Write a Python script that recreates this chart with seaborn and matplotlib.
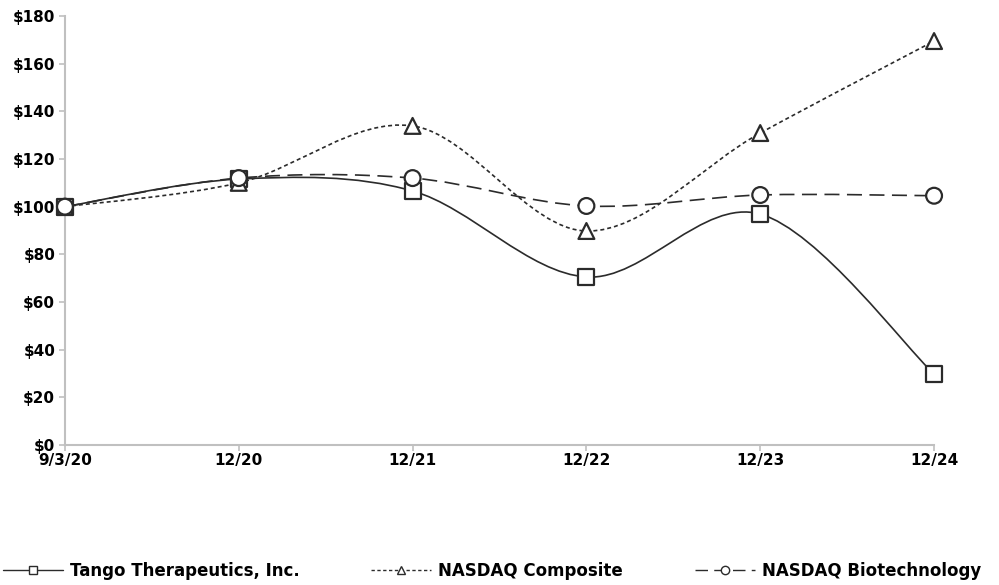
import numpy as np
import pandas as pd
import matplotlib
matplotlib.use("Agg")
import matplotlib.pyplot as plt
from matplotlib.path import Path
from matplotlib.patches import PathPatch
from matplotlib.lines import Line2D
import seaborn as sns

# data
dates = ["9/3/20", "12/20", "12/21", "12/22", "12/23", "12/24"]
tango = [100, 111.6, 106.6, 70.5, 96.9, 29.8]
composite = [100, 110.0, 133.9, 89.8, 130.9, 169.5]
biotech = [100, 112.0, 112.0, 100.3, 104.9, 104.6]
names = ["Tango Therapeutics, Inc.", "NASDAQ Composite", "NASDAQ Biotechnology"]

sns.set_style("white")
plt.rcParams["font.family"] = ["DejaVu Sans"]
plt.rcParams["font.weight"] = "bold"

pos = list(range(len(dates)))
df = pd.DataFrame({
    "pos": pos * 3,
    "value": tango + composite + biotech,
    "series": [names[0]] * 6 + [names[1]] * 6 + [names[2]] * 6,
})

fig = plt.figure(figsize=(9.99, 5.85), dpi=100)
ax = fig.add_axes([0.065, 0.2393, 0.87, 0.7333])

line_col = "#2b2b2b"
styles = {
    names[0]: dict(ls="-", lw=1.2, marker="s"),
    names[1]: dict(ls=(0, (2.4, 1.8)), lw=1.2, marker="^"),
    names[2]: dict(ls=(0, (9, 4.5)), lw=1.2, marker="o"),
}


def smooth_path(xs, ys):
    # Excel-like smoothed line: Catmull-Rom segments as cubic Bezier curves
    p = np.column_stack([xs, ys]).astype(float)
    verts = [p[0]]
    codes = [Path.MOVETO]
    n = len(p)
    for i in range(n - 1):
        p0 = p[i - 1] if i > 0 else p[i]
        p3 = p[i + 2] if i + 2 < n else p[i + 1]
        c1 = p[i] + (p[i + 1] - p0) / 6
        c2 = p[i + 1] - (p3 - p[i]) / 6
        verts += [c1, c2, p[i + 1]]
        codes += [Path.CURVE4] * 3
    return Path(verts, codes)


for name, vals in zip(names, [tango, composite, biotech]):
    st = styles[name]
    ax.add_patch(PathPatch(smooth_path(pos, vals), fill=False, edgecolor=line_col,
                           linestyle=st["ls"], linewidth=st["lw"], zorder=2))

sns.scatterplot(data=df, x="pos", y="value", style="series",
                markers={n: styles[n]["marker"] for n in names},
                s=130, color="white", edgecolor=line_col, linewidth=1.6,
                legend=False, zorder=3, clip_on=False, ax=ax)

ax.set_xlim(0, 5)
ax.set_ylim(0, 180)
ax.set_yticks(range(0, 181, 20))
ax.set_yticklabels([f"${v}" for v in range(0, 181, 20)])
ax.set_xticks(pos)
ax.set_xticklabels(dates)
ax.set_xlabel("")
ax.set_ylabel("")
for s in ["top", "right"]:
    ax.spines[s].set_visible(False)
for s in ["left", "bottom"]:
    ax.spines[s].set_color("#c0c0c0")
    ax.spines[s].set_linewidth(1.5)
ax.tick_params(axis="both", colors="#c0c0c0", length=4, width=1.2,
               labelcolor="black", labelsize=11, left=True, bottom=True)
ax.tick_params(axis="x", pad=2)
ax.tick_params(axis="y", pad=3)

handles = [Line2D([0], [0], color=line_col, linestyle=styles[n]["ls"], lw=1.0,
                  marker=styles[n]["marker"], markersize=6, markerfacecolor="white",
                  markeredgecolor=line_col, markeredgewidth=1.0) for n in names]
fig.legend(handles, names, loc="lower left", bbox_to_anchor=(0.003, 0.009), ncol=3,
           frameon=False, fontsize=12, handlelength=3.6, handletextpad=0.42,
           columnspacing=4.3, borderpad=0, borderaxespad=0, labelcolor="black")

fig.savefig("out.png", dpi=100)
